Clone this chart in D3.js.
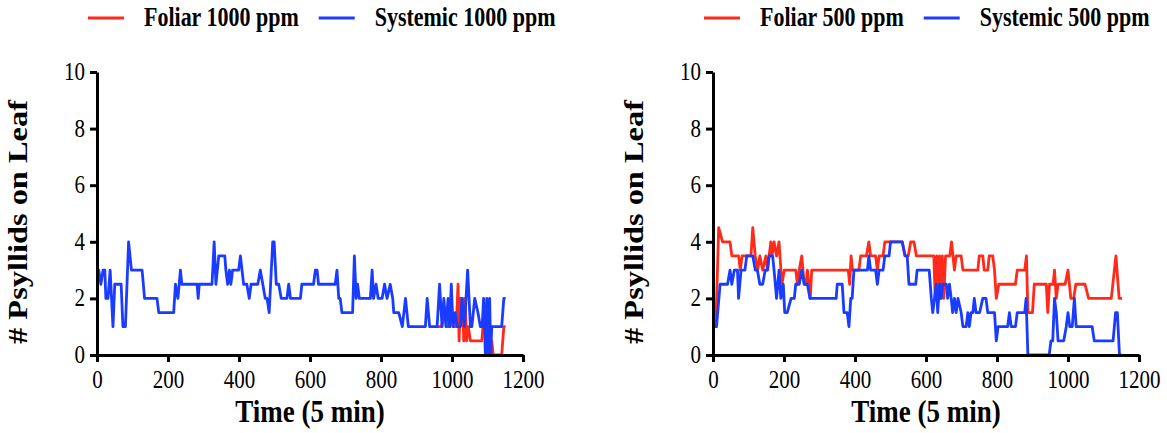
<!DOCTYPE html>
<html>
<head>
<script type="text/javascript" src="https://cdn.jsdelivr.net/npm/d3@7"></script>
<title>Psyllids on leaf</title>
<style>
body { margin: 0; background: #fff; }
text { font-family: "Liberation Serif", "Times New Roman", serif; fill: #000; }
</style>
</head>
<body>
<div id="viz"></div>
<script type="text/javascript">

// [time step, # psyllids]
var systemic1000 = [[1,3],[5,3],[11,2.5],[17,3],[22,3],[25,2],[31,2],[37,3],[45,1],[50,2.5],[68,2.5],[73,1],[80,1],[89,4],[97,3],[127,3],[134,2],[169,2],[174,1.5],[216,1.5],[221,2.5],[228,2],[235,3],[239,2.5],[282,2.5],[285,2],[288,2.5],[324,2.5],[330,4],[335,2.5],[343,3.5],[360,3.5],[363,3],[368,2.5],[373,3],[377,2.5],[382,3],[399,3],[404,3.5],[413,2.5],[422,2.5],[429,2],[434,2.5],[453,2.5],[460,3],[467,2.5],[474,2],[479,2],[485,1.5],[495,4],[499,4],[505,2.5],[512,2.5],[519,2],[535,2],[540,2.5],[545,2],[573,2],[577,2.5],[610,2.5],[615,3],[620,3],[624,2.5],[671,2.5],[676,3],[681,2],[685,2],[690,1.5],[720,1.5],[725,3.5],[730,2],[734,2.5],[739,2],[770,2],[775,3],[779,2],[786,2.5],[792,2],[803,2],[810,2.5],[817,2],[826,2.5],[833,2],[836,1.5],[850,1.5],[860,1],[869,2],[877,1],[925,1],[930,2],[937,1],[958,1],[965,2.5],[972,1],[977,2],[983,1],[989,2],[993,1],[998,2.5],[1003,1],[1009,1.5],[1015,1],[1024,1],[1028,2],[1035,1],[1044,3],[1052,1],[1056,1],[1064,2],[1073,1.5],[1080,1],[1085,1],[1089,2],[1094,0],[1098,2],[1102,0],[1106,2],[1109,0],[1112,1],[1140,1],[1146,2],[1151,2]];

// foliar 1000 runs under the systemic trace until ~t 960, only its tail shows
var foliar1000 = [[958,1],[970,1],[980,1.5],[985,1],[995,1],[1000,1.5],[1005,1],[1012,1],[1017,2.5],[1020,0.5],[1024,2],[1030,2],[1033,0.5],[1037,2],[1041,0.5],[1046,1],[1052,0.5],[1084,0.5],[1087,1],[1092,1],[1096,0.5],[1112,0.5],[1116,0],[1140,0],[1146,1],[1151,1]];

var foliar500 = [[1,1],[8,1],[16,4.5],[27,4],[48,4],[53,3.5],[72,3.5],[77,3],[82,3.5],[107,3.5],[112,4.5],[119,3.5],[126,3],[132,3.5],[140,3],[149,3.5],[154,3],[158,3.5],[163,4],[166,3.5],[172,4],[179,3.5],[186,4],[194,2.5],[201,3],[233,3],[238,2.5],[243,3],[250,3.5],[257,2.5],[262,2.5],[266,3],[274,2],[278,3],[381,3],[385,2.5],[389,3.5],[393,3],[411,3],[416,3.5],[432,3.5],[439,4],[444,3.5],[458,3.5],[463,3],[468,3.5],[479,3.5],[484,4],[533,4],[541,3.5],[550,3.5],[557,4],[566,4],[573,3.5],[622,3.5],[626,2],[630,3.5],[634,2],[638,3.5],[642,2],[646,3.5],[650,2],[655,3.5],[667,3.5],[672,4],[680,3],[685,3.5],[699,3.5],[704,3],[746,3],[750,3.5],[760,3.5],[764,3],[774,3],[778,3.5],[788,3.5],[793,3],[798,2],[805,2.5],[852,2.5],[857,3],[878,3],[883,3.5],[887,1.5],[900,1.5],[905,2.5],[939,2.5],[943,1.5],[948,2.5],[958,2.5],[962,3],[967,2],[972,2.5],[992,2.5],[1000,3],[1008,2],[1016,2],[1022,2.5],[1048,2.5],[1058,2],[1122,2],[1135,3.5],[1144,2],[1152,2]];

var systemic500 = [[1,1],[10,1],[20,2.5],[41,2.5],[48,3],[53,2.5],[60,3],[69,3],[72,2],[79,3],[90,3],[95,3.5],[112,3.5],[119,3],[125,3],[132,2.5],[140,2.5],[147,3],[153,3],[158,3.5],[168,3.5],[172,3],[179,2],[186,3],[191,2],[198,2.5],[202,1.5],[209,1.5],[220,2],[229,2],[233,2.5],[243,2.5],[250,3],[257,2.5],[266,2.5],[273,2],[347,2],[350,2.5],[364,2.5],[369,1.5],[378,1.5],[383,1],[388,2],[392,2],[397,3],[435,3],[439,3.5],[444,3],[458,3],[463,2.5],[468,3],[479,3],[484,3.5],[496,3.5],[500,4],[533,4],[541,3.5],[547,3.5],[552,2.5],[571,2.5],[575,3],[609,3],[615,2],[619,1.5],[624,2],[629,2.5],[633,1.5],[638,2.5],[643,2],[647,2.5],[657,2.5],[661,2],[666,2.5],[671,2],[675,1.5],[680,2],[685,1.5],[690,2],[699,1.5],[704,1],[713,1],[718,1.5],[722,1],[727,1.5],[732,1.5],[736,2],[741,1.5],[751,1.5],[760,2],[769,2],[774,1.5],[793,1.5],[798,0.5],[803,1],[830,1],[835,1.5],[840,1],[852,1],[857,1.5],[878,1.5],[882,2],[887,0],[947,0],[952,0.5],[957,0.5],[962,2],[967,1.5],[972,0.5],[988,0.5],[995,1],[1000,1.5],[1005,1],[1012,1],[1018,2],[1023,1],[1068,1],[1074,0.5],[1127,0.5],[1134,1.5],[1139,1.5],[1145,0],[1151,0]];

var xTicks = [0, 200, 400, 600, 800, 1000, 1200];
var yTicks = [0, 2, 4, 6, 8, 10];
var legend1000 = ["Foliar 1000 ppm", "Systemic 1000 ppm"];
var legend500 = ["Foliar 500 ppm", "Systemic 500 ppm"];

var RED = "#ff2a1a", BLUE = "#1a3cff";
var SERIF = "'Liberation Serif', 'Times New Roman', serif";
var SY = 1.2; // text in the figure is stretched vertically

var svg = d3.select("#viz").append("svg")
    .attr("width", 1167).attr("height", 433);

function drawPanel(left, foliar, systemic, names, legX) {
    var x = d3.scaleLinear().domain([0, 1200]).range([left, left + 426]);
    var y = d3.scaleLinear().domain([0, 10]).range([355, 72]);
    var g = svg.append("g");

    var line = d3.line().x(function(d){return x(d[0]);}).y(function(d){return y(d[1]);});
    g.append("path").datum(foliar).attr("d", line)
        .attr("fill", "none").attr("stroke", RED).attr("stroke-width", 2.8).attr("stroke-linejoin", "round");
    g.append("path").datum(systemic).attr("d", line)
        .attr("fill", "none").attr("stroke", BLUE).attr("stroke-width", 2.8).attr("stroke-linejoin", "round");

    var xa = g.append("g").attr("transform", "translate(0,355)")
        .call(d3.axisBottom(x).tickValues(xTicks).tickFormat(d3.format("d")).tickSize(7).tickSizeOuter(0));
    xa.selectAll("text").attr("y", 33 / SY).attr("dy", 0)
        .attr("transform", "scale(1," + SY + ")");

    var ya = g.append("g").attr("transform", "translate(" + left + ",0)")
        .call(d3.axisLeft(y).tickValues(yTicks).tickFormat(d3.format("d")).tickSize(7).tickSizeOuter(0));
    ya.selectAll("text").attr("x", -12).attr("dy", "0.3em")
        .attr("transform", "scale(1," + SY + ")");

    [xa, ya].forEach(function(a){
        a.attr("font-family", SERIF).attr("font-size", 21);
        a.selectAll("text").style("font-family", SERIF).style("font-size", "21px");
        a.select(".domain").attr("stroke-width", 3);
        a.selectAll(".tick line").attr("stroke-width", 3);
    });

    g.append("text")
        .attr("x", left + 213).attr("y", 422 / SY)
        .attr("transform", "scale(1," + SY + ")")
        .attr("text-anchor", "middle")
        .style("font-weight", "bold").style("font-size", "27px")
        .text("Time (5 min)");

    g.append("text")
        .attr("transform", "translate(" + (left - 70) + ",222) rotate(-90) scale(" + SY + ",1)")
        .attr("text-anchor", "middle")
        .style("font-weight", "bold").style("font-size", "27px")
        .text("# Psyllids on Leaf");

    // legend
    var colors = [RED, BLUE];
    var lg = g.append("g");
    var cx = legX;
    names.forEach(function(n, i){
        lg.append("line").attr("x1", cx).attr("x2", cx + 36).attr("y1", 18).attr("y2", 18)
            .attr("stroke", colors[i]).attr("stroke-width", 2.8);
        var t = lg.append("text").attr("x", cx + 56).attr("y", 26 / SY)
            .attr("transform", "scale(1," + SY + ")")
            .style("font-weight", "bold").style("font-size", "22px")
            .text(n);
        cx = cx + 56 + t.node().getComputedTextLength() + 20;
    });
}

drawPanel(97, foliar1000, systemic1000, legend1000, 88);
drawPanel(713, foliar500, systemic500, legend500, 704);

</script>
</body>
</html>
